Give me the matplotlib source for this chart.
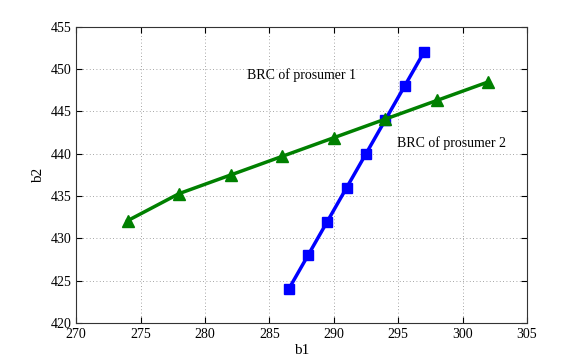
import matplotlib.pyplot as plt

# best response curve of prosumer 1 (blue squares)
b1_p1 = [286.5, 288, 289.5, 291, 292.5, 294, 295.5, 297]
b2_p1 = [424, 428, 432, 436, 440, 444, 448, 452]

# best response curve of prosumer 2 (green triangles)
b1_p2 = [274, 278, 282, 286, 290, 294, 298, 302]
b2_p2 = [432.1, 435.3, 437.5, 439.7, 441.9, 444.1, 446.3, 448.5]

plt.rcParams['font.family'] = ['Liberation Serif', 'DejaVu Serif']
plt.rcParams['font.size'] = 10

fig = plt.figure(figsize=(5.81, 3.63), dpi=100)
ax = fig.add_axes([0.131, 0.110, 0.776, 0.816])

ax.plot(b1_p1, b2_p1, color='blue', linewidth=2.5, marker='s', markersize=6.5)
ax.plot(b1_p2, b2_p2, color='green', linewidth=2.5, marker='^', markersize=8)

ax.text(283.3, 449.3, "BRC of prosumer 1", fontsize=10, va='center')
ax.text(294.9, 441.3, "BRC of prosumer 2", fontsize=10, va='center')

ax.set_xlim(270, 305)
ax.set_ylim(420, 455)
ax.set_xticks(range(270, 306, 5))
ax.set_yticks(range(420, 456, 5))
ax.grid(True, linestyle=(0, (1, 3)), color='#888888', linewidth=0.6)
ax.tick_params(direction='in', length=4, top=True, right=True)
for s in ax.spines.values():
    s.set_color('#333333')

ax.set_xlabel("b1", fontsize=11, labelpad=2)
ax.set_ylabel("b2", fontsize=11, labelpad=4)

fig.savefig("out.png", dpi=100)
